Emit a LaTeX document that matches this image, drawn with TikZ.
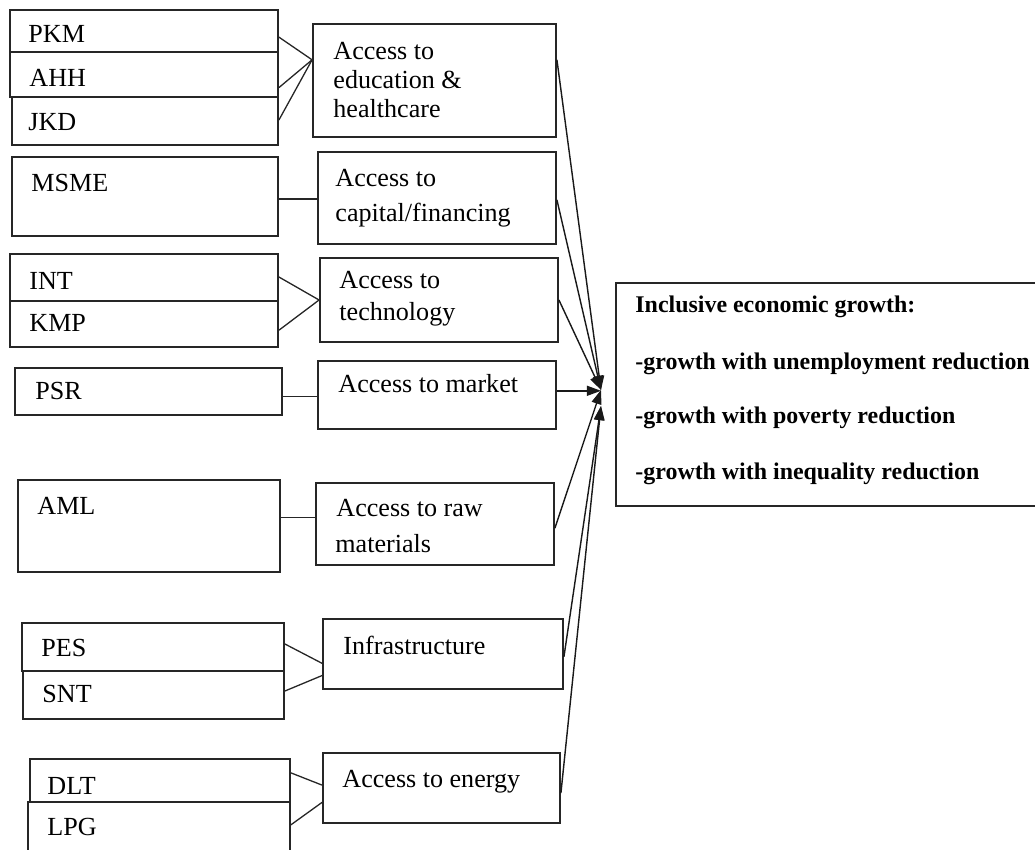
\documentclass[tikz,border=0pt]{standalone}
\usepackage{fontspec}
\setmainfont{Liberation Serif}
\usetikzlibrary{calc,fit,arrows.meta}
\begin{document}
\begin{tikzpicture}[x=0.46pt,y=-0.46pt,
  box/.style={draw=black!85,line width=0.85pt,inner sep=0pt},
  txt/.style={anchor=base west,inner sep=0pt,font=\fontsize{12}{14}\selectfont},
  btxt/.style={anchor=base west,inner sep=0pt,font=\fontsize{11}{13}\selectfont\bfseries},
  link/.style={draw=black!85,line width=0.6pt},
  arr/.style={draw=black!90,line width=0.65pt,-{Triangle[length=6.5pt,width=4.6pt]}}]
\useasboundingbox (0,0) rectangle (1035,850);
% left boxes
\node[box,fit={(10,10)(278,52)}] (pkm) {};
\node[box,fit={(10,52)(278,97)}] (ahh) {};
\node[box,fit={(12,97)(278,145)}] (jkd) {};
\node[box,fit={(12,157)(278,236)}] (msme) {};
\node[box,fit={(10,254)(278,301)}] (int) {};
\node[box,fit={(10,301)(278,347)}] (kmp) {};
\node[box,fit={(15,368)(282,415)}] (psr) {};
\node[box,fit={(18,480)(280,572)}] (aml) {};
\node[box,fit={(22,623)(284,671)}] (pes) {};
\node[box,fit={(23,671)(284,719)}] (snt) {};
\node[box,fit={(30,759)(290,802)}] (dlt) {};
\node[box,fit={(28,802)(290,870)}] (lpg) {};
% middle boxes
\node[box,fit={(313,24)(556,137)}] (edu) {};
\node[box,fit={(318,152)(556,244)}] (cap) {};
\node[box,fit={(320,258)(558,342)}] (tech) {};
\node[box,fit={(318,361)(556,429)}] (mkt) {};
\node[box,fit={(316,483)(554,565)}] (raw) {};
\node[box,fit={(323,619)(563,689)}] (infra) {};
\node[box,fit={(323,753)(560,823)}] (energy) {};
% right box
\node[box,fit={(616,283)(1050,506)}] (incl) {};
% texts
\node[txt] (tpkm) at (28,43) {PKM};
\node[txt] (tahh) at (29,87) {AHH};
\node[txt] (tjkd) at (28,131) {JKD};
\node[txt] (tmsme) at (31,192) {MSME};
\node[txt] (tint) at (29,290) {INT};
\node[txt] (tkmp) at (29,332) {KMP};
\node[txt] (tpsr) at (35,400) {PSR};
\node[txt] (taml) at (37,515) {AML};
\node[txt] (tpes) at (41,657) {PES};
\node[txt] (tsnt) at (42,703) {SNT};
\node[txt] (tdlt) at (47,795) {DLT};
\node[txt] (tlpg) at (47,836) {LPG};
\node[txt] (tedu1) at (333,60) {Access to};
\node[txt] (tedu2) at (333,89) {education \&};
\node[txt] (tedu3) at (333,118) {healthcare};
\node[txt] (tcap1) at (335,187) {Access to};
\node[txt] (tcap2) at (335,222) {capital/financing};
\node[txt] (ttech1) at (339,289) {Access to};
\node[txt] (ttech2) at (339,321) {technology};
\node[txt] (tmkt) at (338,393) {Access to market};
\node[txt] (traw1) at (336,517) {Access to raw};
\node[txt] (traw2) at (335,553) {materials};
\node[txt] (tinfra) at (343,655) {Infrastructure};
\node[txt] (tenergy) at (342,788) {Access to energy};
\node[btxt] (tincl1) at (635,313) {Inclusive economic growth:};
\node[btxt] (tincl2) at (635,370) {-growth with unemployment reduction};
\node[btxt] (tincl3) at (635,424) {-growth with poverty reduction};
\node[btxt] (tincl4) at (635,480) {-growth with inequality reduction};
% connection points
\coordinate (eduin) at ($(edu.north west)!0.32!(edu.south west)$);
\coordinate (techin) at ($(tech.north west)!0.5!(tech.south west)$);
\coordinate (infin1) at ($(infra.north west)!0.63!(infra.south west)$);
\coordinate (infin2) at ($(infra.north west)!0.8!(infra.south west)$);
\coordinate (enin1) at ($(energy.north west)!0.46!(energy.south west)$);
\coordinate (enin2) at ($(energy.north west)!0.7!(energy.south west)$);
\coordinate (m1) at ($(msme.north east)!0.53!(msme.south east)$);
\coordinate (m2) at ($(psr.north east)!0.6!(psr.south east)$);
\coordinate (m3) at ($(aml.north east)!0.41!(aml.south east)$);
\coordinate (hub) at (601,390);
\coordinate (hubb) at (601,406);
\coordinate (mk) at ($(mkt.north east)!0.44!(mkt.south east)$);
% left links
\draw[link] ($(pkm.north east)!0.64!(pkm.south east)$) -- (eduin);
\draw[link] ($(ahh.north east)!0.78!(ahh.south east)$) -- (eduin);
\draw[link] ($(jkd.north east)!0.48!(jkd.south east)$) -- (eduin);
\draw[link] (m1) -- (m1 -| cap.west);
\draw[link] ($(int.north east)!0.49!(int.south east)$) -- (techin);
\draw[link] ($(kmp.north east)!0.63!(kmp.south east)$) -- (techin);
\draw[link] (m2) -- (m2 -| mkt.west);
\draw[link] (m3) -- (m3 -| raw.west);
\draw[link] ($(pes.north east)!0.44!(pes.south east)$) -- (infin1);
\draw[link] ($(snt.north east)!0.42!(snt.south east)$) -- (infin2);
\draw[link] ($(dlt.north east)!0.33!(dlt.south east)$) -- (enin1);
\draw[link] ($(lpg.north east)!0.34!(lpg.south east)$) -- (enin2);
% arrows to hub
\draw[arr] ($(edu.north east)!0.32!(edu.south east)$) -- (hub);
\draw[arr] ($(cap.north east)!0.52!(cap.south east)$) -- (hub);
\draw[arr] ($(tech.north east)!0.5!(tech.south east)$) -- (hub);
\draw[arr] (mk) -- (mk -| hub);
\draw[arr] ($(raw.north east)!0.55!(raw.south east)$) -- (hub);
\draw[arr] ($(infra.north east)!0.54!(infra.south east)$) -- (hubb);
\draw[arr] ($(energy.north east)!0.57!(energy.south east)$) -- (hubb);
\end{tikzpicture}
\end{document}
